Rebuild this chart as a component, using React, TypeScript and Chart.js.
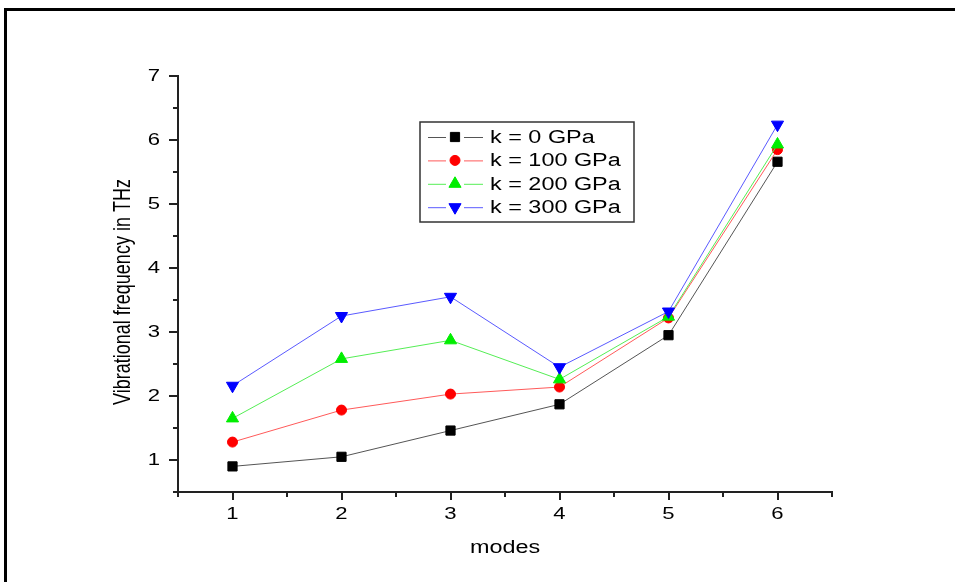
import React, { useEffect, useRef } from 'react';
import { Chart, registerables } from 'chart.js';

Chart.register(...registerables);

// ---- data ----
const modes = [1, 2, 3, 4, 5, 6];
const k0 = [0.9, 1.05, 1.46, 1.87, 2.95, 5.66];
const k100 = [1.28, 1.78, 2.03, 2.14, 3.22, 5.85];
const k200 = [1.65, 2.58, 2.87, 2.26, 3.24, 5.93];
const k300 = [2.16, 3.25, 3.55, 2.45, 3.32, 6.24];
const seriesLabels = ['k = 0 GPa', 'k = 100 GPa', 'k = 200 GPa', 'k = 300 GPa'];
const xTickLabels = ['1', '2', '3', '4', '5', '6'];
const yTickLabels = ['1', '2', '3', '4', '5', '6', '7'];
const xTitle = 'modes';
const yTitle = 'Vibrational frequency in THz';

const SX = 1.3;
const FONT = '"Liberation Sans", Arial, sans-serif';
const TEXT = '#000000';

function stretchedText(
  ctx: CanvasRenderingContext2D,
  text: string,
  x: number,
  y: number,
  size: number,
  align: CanvasTextAlign,
  baseline: CanvasTextBaseline,
  rotate = false
) {
  ctx.save();
  ctx.translate(x, y);
  ctx.scale(SX, 1);
  if (rotate) ctx.rotate(-Math.PI / 2);
  ctx.font = `${size}px ${FONT}`;
  ctx.textAlign = align;
  ctx.textBaseline = baseline;
  ctx.fillStyle = TEXT;
  ctx.fillText(text, 0, 0);
  ctx.restore();
}

function marker(ctx: CanvasRenderingContext2D, style: string, rotation: number, r: number, x: number, y: number, color: string) {
  ctx.save();
  ctx.fillStyle = color;
  ctx.strokeStyle = color;
  ctx.lineWidth = 1;
  ctx.beginPath();
  if (style === 'rect') {
    const s = r * Math.SQRT1_2;
    ctx.rect(x - s, y - s, 2 * s, 2 * s);
  } else if (style === 'circle') {
    ctx.arc(x, y, r, 0, Math.PI * 2);
  } else {
    let rad = (rotation * Math.PI) / 180;
    ctx.moveTo(x + Math.sin(rad) * r, y - Math.cos(rad) * r);
    rad += (2 * Math.PI) / 3;
    ctx.lineTo(x + Math.sin(rad) * r, y - Math.cos(rad) * r);
    rad += (2 * Math.PI) / 3;
    ctx.lineTo(x + Math.sin(rad) * r, y - Math.cos(rad) * r);
    ctx.closePath();
  }
  ctx.fill();
  ctx.stroke();
  ctx.restore();
}

const decorPlugin = {
  id: 'decor',
  beforeDraw(chart: any) {
    const ctx = chart.ctx as CanvasRenderingContext2D;
    ctx.save();
    ctx.fillStyle = '#ffffff';
    ctx.fillRect(0, 0, chart.width, chart.height);
    ctx.fillStyle = '#000000';
    ctx.fillRect(4, 8, 3, chart.height - 8);
    ctx.fillRect(4, 8, chart.width - 4, 3);
    ctx.restore();
  },
  afterDraw(chart: any) {
    const ctx = chart.ctx as CanvasRenderingContext2D;
    const xs = chart.scales.x;
    const ys = chart.scales.y;
    const area = chart.chartArea;
    ctx.save();
    ctx.strokeStyle = '#222222';
    ctx.lineWidth = 2;
    xs.ticks.forEach((t: any) => {
      const px = Math.round(xs.getPixelForValue(t.value));
      const major = Number.isInteger(t.value);
      ctx.beginPath();
      ctx.moveTo(px, area.bottom);
      ctx.lineTo(px, area.bottom + (major ? 8 : 5));
      ctx.stroke();
    });
    ys.ticks.forEach((t: any) => {
      const py = Math.round(ys.getPixelForValue(t.value));
      const major = Number.isInteger(t.value);
      ctx.beginPath();
      ctx.moveTo(area.left, py);
      ctx.lineTo(area.left - (major ? 9 : 5), py);
      ctx.stroke();
    });
    ctx.restore();

    xTickLabels.forEach((l) => {
      stretchedText(ctx, l, xs.getPixelForValue(Number(l)), area.bottom + 22, 17, 'center', 'middle');
    });
    yTickLabels.forEach((l) => {
      stretchedText(ctx, l, area.left - 18, ys.getPixelForValue(Number(l)), 17, 'right', 'middle');
    });
    stretchedText(ctx, xTitle, (area.left + area.right) / 2, area.bottom + 61, 18, 'center', 'alphabetic');
    stretchedText(ctx, yTitle, 124, 292, 18, 'center', 'middle', true);

    // legend
    const lx = 420, ly = 122, lw = 214, lh = 100;
    ctx.save();
    ctx.strokeStyle = '#333333';
    ctx.lineWidth = 1.5;
    ctx.strokeRect(lx, ly, lw, lh);
    ctx.restore();
    chart.data.datasets.forEach((ds: any, i: number) => {
      const cy = 137 + i * 23.4;
      ctx.save();
      ctx.strokeStyle = ds.borderColor;
      ctx.lineWidth = 1;
      ctx.beginPath();
      ctx.moveTo(428, cy + 0.5);
      ctx.lineTo(446, cy + 0.5);
      ctx.moveTo(464, cy + 0.5);
      ctx.lineTo(483, cy + 0.5);
      ctx.stroke();
      ctx.restore();
      marker(ctx, ds.pointStyle, ds.pointRotation || 0, ds.pointRadius, 455, cy, ds.pointBackgroundColor);
      stretchedText(ctx, ds.label, 490, cy + 1, 18, 'left', 'middle');
    });
  },
};

export default function App() {
  const ref = useRef<HTMLCanvasElement | null>(null);
  useEffect(() => {
    if (!ref.current) return;
    const mk = (vals: number[]) => modes.map((m, i) => ({ x: m, y: vals[i] }));
    const chart = new Chart(ref.current, {
      type: 'line',
      data: {
        datasets: [
          { label: seriesLabels[0], data: mk(k0), borderColor: '#555555', pointBackgroundColor: '#000000', pointBorderColor: '#000000', pointStyle: 'rect', pointRadius: 6.5, order: 3 },
          { label: seriesLabels[1], data: mk(k100), borderColor: '#ff5a5a', pointBackgroundColor: '#ff0000', pointBorderColor: '#ff0000', pointStyle: 'circle', pointRadius: 5, order: 2 },
          { label: seriesLabels[2], data: mk(k200), borderColor: '#55ee55', pointBackgroundColor: '#00ee00', pointBorderColor: '#00ee00', pointStyle: 'triangle', pointRadius: 7, order: 1 },
          { label: seriesLabels[3], data: mk(k300), borderColor: '#5a5aff', pointBackgroundColor: '#0000ff', pointBorderColor: '#0000ff', pointStyle: 'triangle', pointRotation: 180, pointRadius: 7, order: 0 },
        ] as any,
      },
      options: {
        animation: false,
        responsive: false,
        maintainAspectRatio: false,
        layout: { padding: { top: 76, right: 123, left: 0, bottom: 0 } },
        elements: { line: { borderWidth: 1, tension: 0 }, point: { borderWidth: 1 } },
        plugins: { legend: { display: false }, tooltip: { enabled: false } },
        scales: {
          x: {
            type: 'linear',
            min: 0.5,
            max: 6.5,
            ticks: { stepSize: 0.5, display: false },
            grid: { display: false, drawTicks: false, tickLength: 0 },
            border: { display: true, color: '#222222', width: 2 },
            afterFit: (s: any) => { s.height = 90; },
          },
          y: {
            type: 'linear',
            min: 0.5,
            max: 7,
            ticks: { stepSize: 0.5, display: false },
            grid: { display: false, drawTicks: false, tickLength: 0 },
            border: { display: true, color: '#222222', width: 2 },
            afterFit: (s: any) => { s.width = 178; },
          },
        },
      },
      plugins: [decorPlugin],
    });
    return () => chart.destroy();
  }, []);
  return (
    <div style={{ position: 'absolute', left: 0, top: 0, width: 955, height: 582 }}>
      <canvas ref={ref} width={955} height={582} style={{ display: 'block' }} />
    </div>
  );
}
